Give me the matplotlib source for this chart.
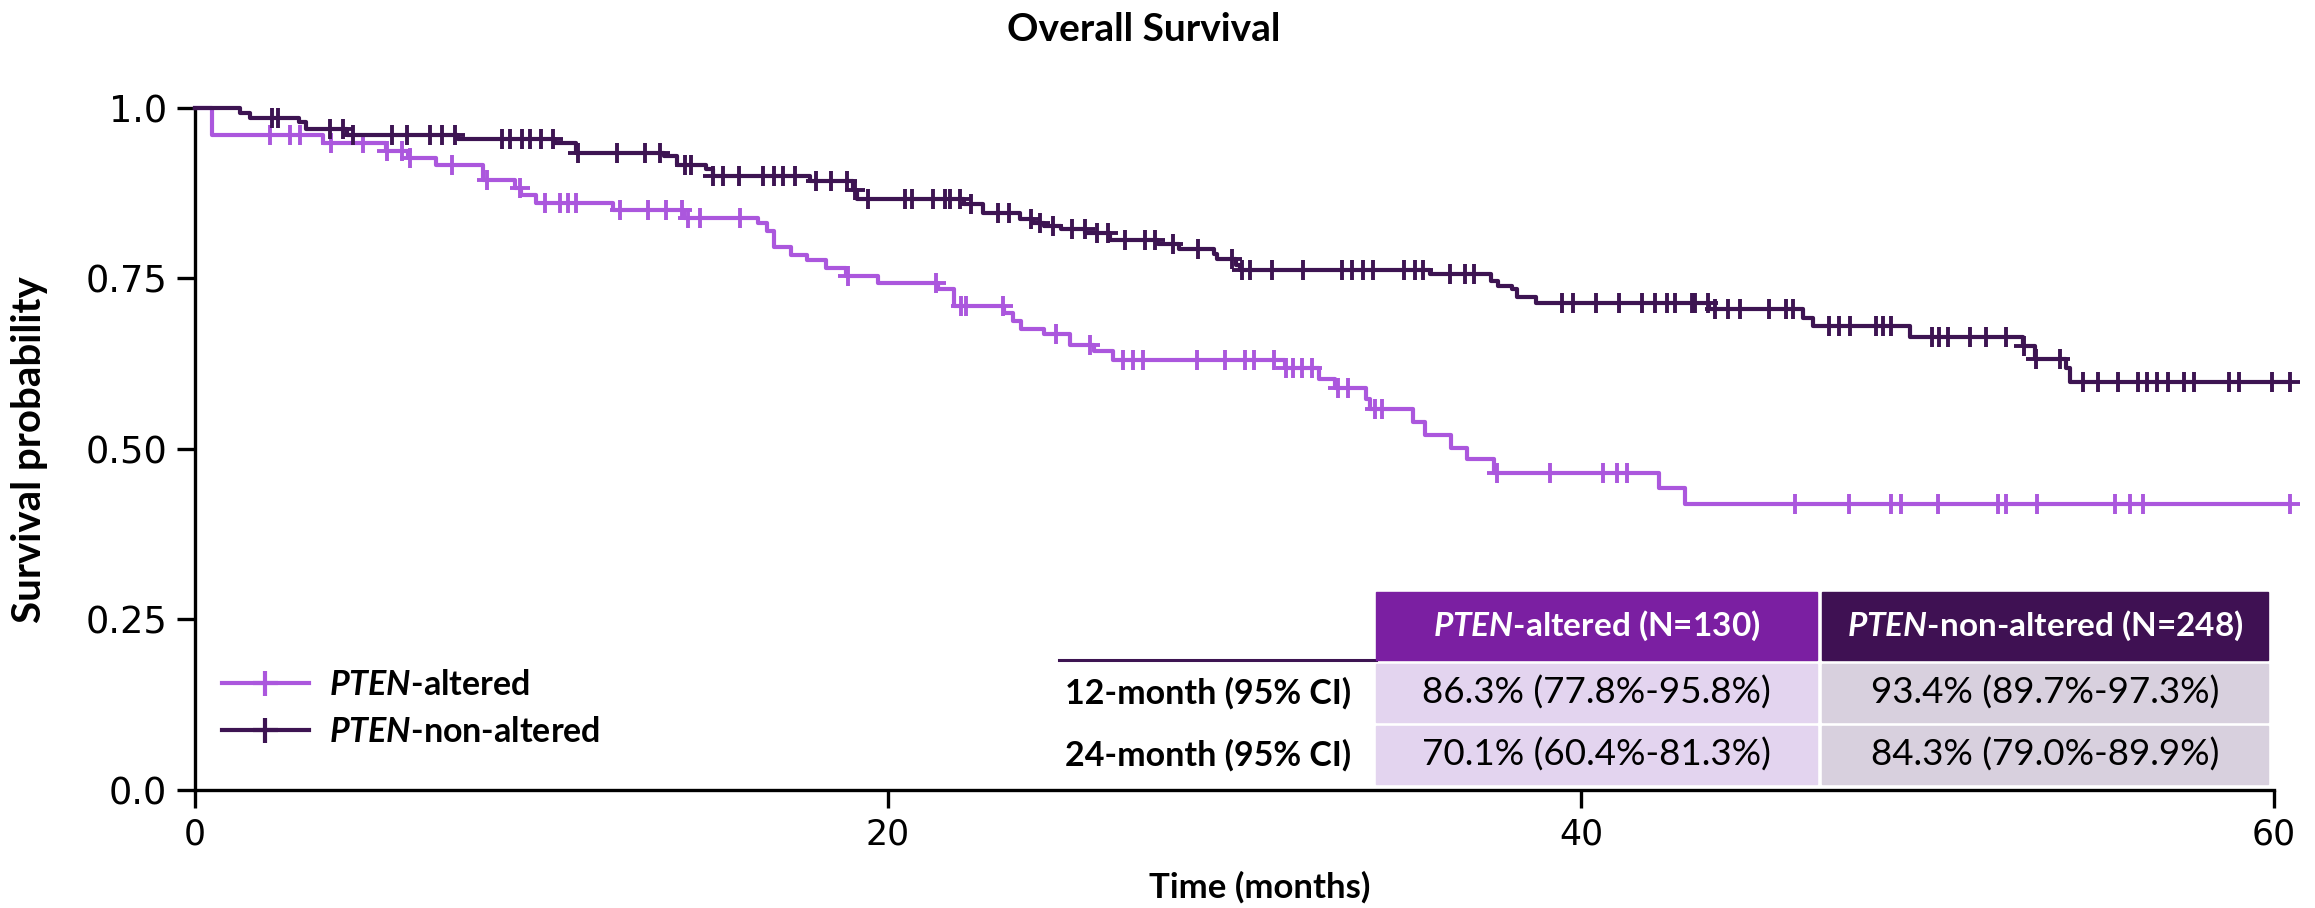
import numpy as np
import matplotlib
matplotlib.use('Agg')
import matplotlib.pyplot as plt
from matplotlib.lines import Line2D
from matplotlib.patches import Rectangle

# KM steps: time (months) of each drop, survival after it
alt_t = [0.5, 3.7, 5.5, 6.15, 6.95, 8.3, 9.25, 9.4, 9.85, 12.07, 14.1, 16.25, 16.5, 16.7,
         17.2, 17.65, 18.2, 18.8, 19.7, 21.45, 21.9, 23.35, 23.6, 23.85, 24.5, 25.25, 25.95,
         26.5, 31.45, 32.45, 32.9, 33.8, 33.9, 35.15, 35.5, 36.25, 36.7, 37.5, 42.25, 43.0]
alt_s = [0.961, 0.949, 0.937, 0.927, 0.917, 0.895, 0.883, 0.873, 0.861, 0.851, 0.839, 0.832,
         0.819, 0.796, 0.785, 0.777, 0.766, 0.754, 0.744, 0.734, 0.710, 0.700, 0.687, 0.676,
         0.668, 0.653, 0.643, 0.631, 0.619, 0.602, 0.590, 0.573, 0.558, 0.539, 0.520, 0.502,
         0.485, 0.465, 0.443, 0.420]
alt_cens = [2.16, 2.74, 3.03, 3.94, 4.86, 5.53, 5.97, 6.2, 7.41, 8.42, 9.38, 10.1, 10.53, 10.77,
            11.0, 12.26, 13.08, 13.59, 14.05, 14.24, 14.58, 15.73, 18.85, 21.38, 22.12, 22.26,
            23.33, 24.85, 25.83, 26.79, 27.06, 27.35, 28.91, 29.73, 30.29, 30.57, 31.13, 31.5,
            31.68, 31.94, 32.23, 33.0, 33.29, 34.06, 34.25, 37.57, 39.1, 40.64, 41.05, 41.34,
            46.18, 47.72, 48.94, 49.23, 50.31, 52.04, 52.26, 53.17, 55.41, 55.84, 56.21, 60.46]

non_t = [1.3, 1.6, 3.0, 3.2, 4.4, 7.6, 10.4, 11.0, 13.55, 13.9, 14.75, 14.95, 17.75, 19.0,
         19.1, 22.2, 22.75, 23.8, 24.2, 24.5, 25.0, 25.7, 26.4, 27.8, 28.4, 29.4, 29.5, 30.05,
         30.15, 35.65, 37.4, 37.6, 38.0, 38.15, 38.7, 43.7, 46.4, 46.7, 49.5, 52.75, 53.1,
         54.0, 54.1]
non_s = [0.992, 0.986, 0.979, 0.969, 0.961, 0.955, 0.949, 0.934, 0.929, 0.917, 0.910, 0.900,
         0.893, 0.879, 0.866, 0.859, 0.846, 0.837, 0.832, 0.827, 0.823, 0.817, 0.807, 0.800,
         0.793, 0.786, 0.778, 0.770, 0.763, 0.756, 0.746, 0.739, 0.734, 0.723, 0.714, 0.705,
         0.692, 0.681, 0.664, 0.651, 0.632, 0.618, 0.598]
non_cens = [2.21, 2.40, 3.90, 4.28, 4.57, 5.68, 6.11, 6.78, 7.12, 7.50, 8.85, 9.09, 9.43, 9.67,
            10.0, 10.34, 11.05, 12.19, 13.0, 13.42, 14.14, 14.33, 14.96, 15.25, 15.71, 16.38,
            16.71, 16.96, 17.32, 17.92, 18.37, 18.81, 19.05, 19.43, 20.5, 20.69, 21.3, 21.65,
            21.79, 22.08, 22.41, 23.18, 23.5, 24.12, 24.39, 24.77, 25.3, 25.68, 26.02, 26.36,
            26.84, 27.42, 27.71, 28.23, 28.96, 29.92, 30.21, 30.45, 31.08, 31.99, 33.1, 33.38,
            33.72, 34.0, 34.89, 35.21, 35.43, 36.22, 36.65, 36.91, 39.44, 39.76, 40.43, 41.1,
            41.75, 42.13, 42.49, 42.71, 43.19, 43.29, 43.67, 43.87, 44.25, 44.59, 45.44, 45.92,
            46.13, 47.15, 47.45, 47.75, 48.52, 48.73, 48.94, 50.12, 50.34, 50.6, 51.23, 51.68,
            52.26, 52.79, 53.13, 53.81, 54.48, 54.93, 55.51, 56.08, 56.33, 56.62, 56.95, 57.39,
            57.7, 58.69, 58.98, 59.94, 60.46]

x_ticks = [0, 20, 40, 60]
y_ticks = [0.0, 0.25, 0.50, 0.75, 1.0]
y_ticklabels = ['0.0', '0.25', '0.50', '0.75', '1.0']

leg_labels = [r'$\mathit{PTEN}$-altered', r'$\mathit{PTEN}$-non-altered']
col_heads = [r'$\mathit{PTEN}$-altered (N=130)', r'$\mathit{PTEN}$-non-altered (N=248)']
row_labs = ['12-month (95% CI)', '24-month (95% CI)']
alt_cells = ['86.3% (77.8%-95.8%)', '70.1% (60.4%-81.3%)']
non_cells = ['93.4% (89.7%-97.3%)', '84.3% (79.0%-89.9%)']

c_alt = '#AB57DD'
c_non = '#3D1452'
head_cols = ['#7B1FA2', '#3F1153']
body_cols = ['#E3D4EF', '#D8D0DE']
txt_font = 'Lato'

plt.rcParams['mathtext.fontset'] = 'custom'
plt.rcParams['mathtext.it'] = 'Lato:italic:bold'
plt.rcParams['mathtext.rm'] = 'Lato:bold'

fig = plt.figure(figsize=(23.15, 9.08), dpi=100)
ax = fig.add_axes([0.0842, 0.1300, 0.8981, 0.7511])


def km_line(t, s, cens, col):
    xs = [0.0] + list(t) + [max(cens)]
    ys = [1.0] + list(s) + [s[-1]]
    ax.step(xs, ys, where='post', color=col, lw=3.0, clip_on=False, zorder=3)
    tt = np.array([0.0] + list(t))
    ss = np.array([1.0] + list(s))
    idx = np.searchsorted(tt, cens, side='right') - 1
    ax.plot(cens, ss[idx], ls='none', marker='+', ms=14, mew=2.8, color=col,
            clip_on=False, zorder=3)


km_line(alt_t, alt_s, alt_cens, c_alt)
km_line(non_t, non_s, non_cens, c_non)

ax.set_xlim(0, 60)
ax.set_ylim(0, 1.0)
ax.set_xticks(x_ticks)
ax.set_yticks(y_ticks)
ax.set_yticklabels(y_ticklabels)
for sp in ['top', 'right']:
    ax.spines[sp].set_visible(False)
for sp in ['left', 'bottom']:
    ax.spines[sp].set_linewidth(2.4)
ax.tick_params(length=13, width=2.4, labelsize=25, pad=7)
ax.tick_params(axis='y', labelsize=26.5)

# legend
hs = [Line2D([], [], color=c_alt, lw=3.0, marker='+', ms=18, mew=3.0),
      Line2D([], [], color=c_non, lw=3.0, marker='+', ms=18, mew=3.0)]
ax.legend(hs, leg_labels, loc='upper left', bbox_to_anchor=(0.013, 0.178), frameon=False,
          prop=dict(family=txt_font, weight='bold', size=24.5), handlelength=2.55,
          handletextpad=0.6, labelspacing=0.45, borderpad=0, borderaxespad=0)

# table of landmark estimates
col_x = [0.568, 0.7816, 0.9971]
gap = 0.0012
head_y = (0.1906, 0.2903)
row_y = [(0.0997, 0.1848), (0.0088, 0.0938)]
ax.plot([0.4156, col_x[0]], [head_y[0], head_y[0]], color=c_non, lw=2.2,
        transform=ax.transAxes, clip_on=False)
for j in range(2):
    x0, x1 = col_x[j] + (gap if j else 0), col_x[j + 1] - (0 if j else gap)
    ax.add_patch(Rectangle((x0, head_y[0]), x1 - x0, head_y[1] - head_y[0],
                           transform=ax.transAxes, color=head_cols[j], clip_on=False, zorder=4))
    ax.text((x0 + x1) / 2, sum(head_y) / 2, col_heads[j], transform=ax.transAxes,
            ha='center', va='center', color='white', family=txt_font, weight='bold',
            size=24, zorder=5)
    cells = alt_cells if j == 0 else non_cells
    for i in range(2):
        y0, y1 = row_y[i]
        ax.add_patch(Rectangle((x0, y0), x1 - x0, y1 - y0, transform=ax.transAxes,
                               color=body_cols[j], clip_on=False, zorder=4))
        ax.text((x0 + x1) / 2, (y0 + y1) / 2, cells[i], transform=ax.transAxes,
                ha='center', va='center', family=txt_font, size=26.5, zorder=5)
for i in range(2):
    ax.text(0.556, sum(row_y[i]) / 2, row_labs[i], transform=ax.transAxes, ha='right',
            va='center', family=txt_font, weight='bold', size=24.5)

fig.text(0.494, 0.9675, 'Overall Survival', ha='center', va='center', family=txt_font,
         weight='bold', size=28)
fig.text(0.0127, 0.5044, 'Survival probability', ha='center', va='center', rotation=90,
         family=txt_font, weight='bold', size=29)
fig.text(0.544, 0.0231, 'Time (months)', ha='center', va='center', family=txt_font,
         weight='bold', size=25)

fig.savefig('out.png', dpi=100)
